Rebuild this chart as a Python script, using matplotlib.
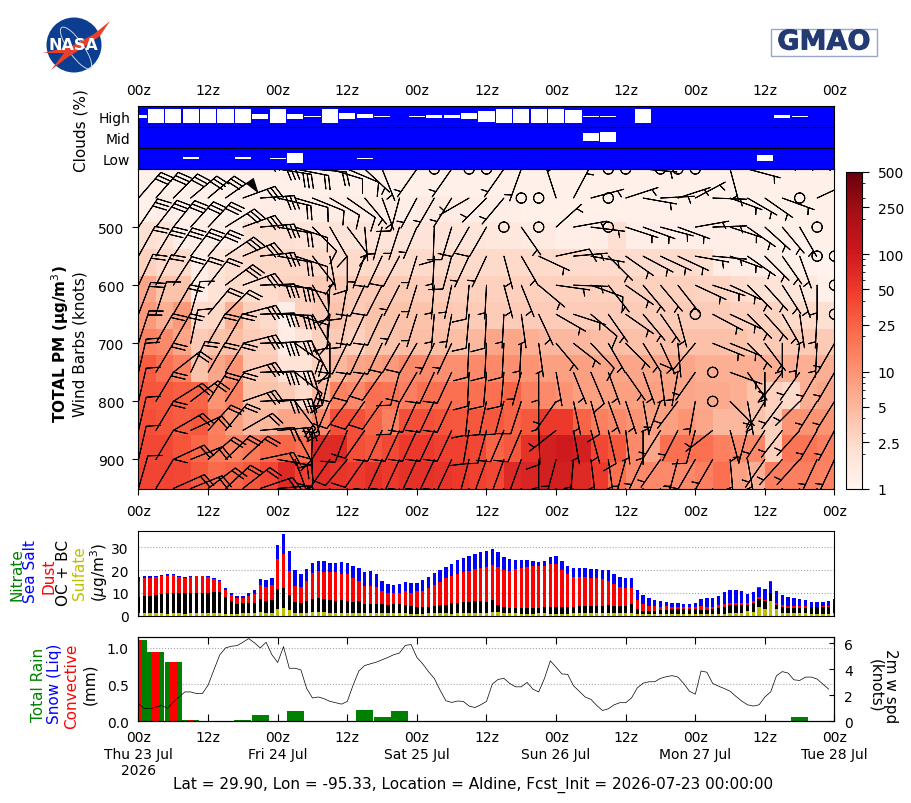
import numpy as np
import matplotlib
matplotlib.use("Agg")
import matplotlib.pyplot as plt
import matplotlib.patheffects as pe
from matplotlib.colors import LogNorm
from matplotlib.patches import Circle, Ellipse, Polygon, Rectangle
from matplotlib.ticker import NullFormatter

# forecast hours, 3-hourly columns and pressure levels
hours = np.arange(121)
steps = np.arange(0, 123, 3)
levels = np.arange(400, 1000, 50)
pm_edges = np.linspace(400, 950, 13)

tick_hours = np.arange(0, 132, 12)
tick_names = ["00z", "12z"] * 5 + ["00z"]
bottom_names = ["00z\nThu 23 Jul\n2026", "12z", "00z\nFri 24 Jul", "12z", "00z\nSat 25 Jul", "12z",
                "00z\nSun 26 Jul", "12z", "00z\nMon 27 Jul", "12z", "00z\nTue 28 Jul"]

# cloud fraction per layer
cloud_high = [.2, 1, 1, 1, 1, 1, 1, .36, 1, .36, .07, 1, .43, .29, .07, 0, .07, .2, .2, .43, .8, 1, 1, 1, 1, .93,
              .07, .07, 0, 1, 0, 0, 0, 0, 0, 0, 0, .2, .07, 0, 0]
cloud_mid = [0] * 26 + [.57, .71] + [0] * 13
cloud_low = [0, 0, 0, .14, 0, 0, .14, 0, .07, .71, 0, 0, 0, .07, 0, 0, 0, 0, 0, 0, 0, 0, 0, 0, 0, 0,
             0, 0, 0, 0, 0, 0, 0, 0, 0, 0, .43, 0, 0, 0, 0]

# total PM by layer, top to bottom (ug/m3)
pm_rows = [
    [1.2, 1.2, 1.2, 1.2, 1.2, 1.2, 1.2, 1.2, 1.2, 1.2, 1.2, 1.2, 1.2, 1.2, 1.2, 1.2, 1.2, 1.2, 1.2, 1.2,
     1.2, 1.2, 1.2, 1.2, 1.2, 1.2, 1.2, 1.2, 1.2, 1.2, 1.2, 1.2, 1.2, 1.2, 1.2, 1.2, 1.2, 1.2, 1.2, 1.2],
    [1.2, 1.4, 1.2, 1.2, 1.1, 1.2, 1.3, 1.4, 1.4, 1.4, 1.3, 1.4, 1.4, 1.4, 1.4, 1.3, 1.5, 1.5, 1.4, 1.3,
     1.3, 1.3, 1.2, 1.2, 1.2, 1.2, 1.2, 1.2, 1.2, 1.2, 1.2, 1.2, 1.2, 1.2, 1.2, 1.2, 1.2, 1.2, 1.2, 1.2],
    [2.2, 2, 1.3, 1.3, 1.3, 1.3, 2.2, 2.2, 2.1, 2, 1.9, 1.9, 1.9, 1.9, 1.9, 1.9, 1.9, 1.9, 1.8, 1.8,
     1.7, 1.7, 1.5, 1.5, 1.3, 1.3, 1.4, 2.2, 1.3, 1.3, 1.3, 1.3, 1.3, 1.3, 1.3, 1.3, 1.2, 1.2, 1.2, 1.2],
    [3, 2.5, 2.5, 1.3, 1.8, 2.3, 2.5, 2.6, 2.6, 2.6, 2.5, 2.5, 2.5, 2.5, 2.5, 2.5, 2.5, 2.5, 2.5, 2.5,
     2.5, 2.5, 2.5, 2.5, 2.4, 2.4, 2.4, 2.4, 2.4, 2.4, 2.4, 2.4, 2.3, 1.4, 1.3, 1.3, 1.3, 1.2, 1.2, 1.1],
    [7, 4, 4, 1.3, 2, 2.5, 2.2, 2.4, 2.8, 3, 3.5, 3.5, 3.5, 3.5, 3.5, 3.5, 3.2, 3.2, 3, 3,
     3, 3, 3, 3, 3, 3, 3, 3, 3, 3, 3, 3, 2.8, 2.8, 2.4, 2.2, 2, 1.8, 1.6, 1.2],
    [9, 6, 9, 2.5, 2.6, 6, 3, 2.5, 1.3, 3, 3.5, 4, 3.5, 4, 4, 4, 4, 3.8, 3.5, 3.3,
     3.3, 3.3, 3.3, 3.3, 3.3, 3.3, 3.3, 3.3, 3.3, 3.3, 3.3, 3.3, 3.3, 3.3, 3, 3, 2.8, 2.5, 2.5, 2.2],
    [14, 12, 7, 3.5, 4, 4.5, 3.3, 3, 1.4, 2, 3, 3.5, 3, 4, 4, 4.5, 4.5, 4.5, 4.5, 5,
     7, 7, 6, 5, 5, 5, 4.5, 4.5, 4.2, 4.2, 4.2, 4.2, 4.2, 4.2, 4, 3.5, 3.5, 3.5, 3.5, 3.5],
    [28, 20, 14, 4, 7, 10, 3.5, 3.5, 2, 2, 3, 5, 7, 8, 9, 12, 12, 11, 11, 12,
     12, 11, 10, 8, 8, 8, 7, 7, 7, 7, 7, 7, 6, 6, 6, 6, 6, 6, 6, 6],
    [32, 30, 27, 25, 10, 14, 4, 4, 3.5, 2.5, 5, 14, 12, 20, 18, 15, 20, 20, 20, 20,
     20, 25, 15, 12, 10, 8, 8, 8, 8, 8, 8, 7, 6.5, 6.5, 6, 4, 3, 2.5, 6, 7],
    [36, 32, 28, 30, 15, 8, 5, 5, 7, 7, 12, 35, 35, 25, 15, 35, 35, 32, 30, 30,
     30, 25, 30, 50, 50, 25, 15, 12, 10, 8, 8, 10, 7, 5, 5, 4, 3, 10, 10, 10],
    [40, 40, 32, 24, 16, 14, 17, 22, 24, 20, 70, 70, 35, 30, 40, 50, 50, 45, 45, 40,
     25, 30, 60, 90, 100, 90, 40, 30, 12, 7, 20, 20, 20, 15, 12, 12, 3, 18, 18, 15],
    [42, 42, 40, 30, 22, 25, 30, 40, 70, 45, 65, 55, 50, 60, 50, 60, 60, 55, 50, 45,
     40, 70, 80, 90, 90, 70, 50, 20, 12, 12, 12, 12, 15, 20, 8, 6, 15, 15, 15, 14],
]
pm_ticks = [1, 2.5, 5, 10, 25, 50, 100, 250, 500]
pm_tick_names = ["1", "2.5", "5", "10", "25", "50", "100", "250", "500"]

# wind: compass direction it comes from, and speed in knots, top to bottom
wind_dir = [
    [40, 40, 45, 50, 50, 55, 70, 85, 99, 101, 95, 107, 113, 133, 158, 30, 215, 0, 215,
     0, 0, 215, 200, 40, 40, 40, 60, 0, 0, 95, 0, 0, 0, 60, 165, 105, 80, 80, 80, 75, 75],
    [41, 41, 45, 50, 50, 55, 70, 86, 103, 106, 112, 120, 125, 140, 160, 195, 208, 210, 212,
     240, 225, 220, 0, 0, 342, 28, 75, 0, 72, 100, 87, 72, 62, 92, 110, 120, 125, 110, 0, 65, 60],
    [34, 38, 39, 42, 43, 58, 70, 85, 100, 108, 135, 150, 143, 175, 195, 198, 203, 182, 197,
     210, 210, 0, 145, 0, 48, 80, 97, 0, 108, 110, 105, 110, 80, 88, 108, 125, 132, 140, 150, 0, 60],
    [29, 31, 34, 37, 40, 56, 67, 84, 100, 108, 142, 170, 180, 200, 205, 208, 197, 183, 195,
     205, 205, 165, 150, 115, 78, 85, 100, 135, 125, 118, 115, 115, 100, 95, 110, 125, 135, 145, 160, 0, 0],
    [25, 27, 33, 35, 38, 53, 70, 88, 95, 105, 150, 183, 190, 205, 207, 207, 197, 185, 192,
     185, 183, 165, 158, 130, 98, 92, 110, 142, 125, 140, 140, 142, 115, 108, 115, 135, 138, 147, 162, 180, 0],
    [21, 18, 30, 16, 40, 45, 75, 88, 92, 108, 150, 185, 192, 205, 205, 205, 197, 185, 190,
     185, 183, 183, 172, 155, 120, 108, 130, 145, 125, 140, 145, 165, 0, 118, 115, 135, 138, 150, 172, 183, 0],
    [18, 30, 30, 12, 30, 30, 76, 88, 86, 125, 152, 180, 206, 205, 205, 210, 210, 205, 205,
     183, 183, 183, 183, 172, 140, 128, 137, 150, 135, 148, 155, 175, 220, 112, 112, 135, 143, 180, 187, 183, 210],
    [13, 31, 52, 25, 30, 32, 73, 88, 88, 128, 163, 193, 210, 212, 215, 195, 210, 205, 205,
     183, 185, 185, 195, 180, 170, 158, 157, 160, 145, 160, 172, 190, 215, 0, 110, 145, 180, 218, 215, 210, 210],
    [13, 31, 58, 53, 33, 33, 71, 87, 86, 143, 168, 203, 217, 215, 215, 195, 205, 205, 205,
     186, 192, 195, 198, 180, 215, 168, 165, 160, 162, 170, 200, 217, 190, 0, 135, 170, 212, 217, 225, 212, 212],
    [13, 31, 60, 65, 42, 39, 60, 85, 85, 152, 182, 212, 201, 215, 205, 205, 205, 205, 205,
     190, 195, 203, 203, 178, 232, 170, 165, 167, 173, 180, 212, 207, 195, 232, 165, 195, 213, 218, 222, 210, 208],
    [13, 31, 65, 68, 49, 46, 47, 78, 100, 160, 180, 215, 220, 215, 205, 205, 205, 205, 205,
     195, 200, 200, 200, 180, 195, 185, 173, 172, 195, 205, 215, 195, 210, 210, 175, 170, 215, 222, 222, 205, 205],
    [16, 31, 66, 68, 53, 47, 52, 71, 85, 170, 180, 200, 205, 205, 205, 205, 205, 205, 205,
     205, 205, 205, 205, 205, 205, 205, 205, 205, 205, 205, 205, 205, 205, 205, 205, 205, 205, 205, 205, 205, 205],
]
wind_spd = [
    [30, 30, 30, 30, 30, 30, 30, 30, 30, 20, 20, 10, 10, 5, 5, 5, 5, 0, 5,
     0, 0, 5, 5, 5, 5, 5, 5, 0, 0, 5, 0, 0, 0, 5, 5, 5, 5, 5, 5, 5, 5],
    [30, 30, 30, 30, 30, 50, 30, 30, 20, 10, 10, 10, 10, 5, 5, 10, 5, 5, 5,
     5, 5, 5, 0, 0, 5, 5, 5, 0, 5, 5, 5, 5, 5, 5, 5, 5, 5, 5, 0, 5, 5],
    [30, 30, 30, 30, 30, 30, 30, 30, 20, 10, 10, 10, 10, 5, 5, 5, 5, 10, 10,
     10, 10, 0, 5, 0, 5, 5, 5, 0, 5, 5, 5, 5, 5, 5, 5, 5, 5, 5, 5, 0, 5],
    [20, 30, 30, 30, 30, 30, 30, 30, 20, 10, 10, 5, 10, 5, 10, 10, 5, 5, 10,
     5, 5, 5, 5, 5, 10, 5, 5, 5, 5, 5, 5, 5, 5, 5, 5, 5, 5, 5, 5, 0, 0],
    [20, 20, 20, 20, 20, 30, 30, 30, 30, 10, 10, 10, 10, 10, 10, 5, 5, 5, 5,
     10, 5, 5, 5, 5, 5, 5, 10, 5, 5, 5, 5, 5, 5, 5, 5, 5, 5, 5, 5, 5, 0],
    [20, 10, 20, 10, 20, 20, 30, 30, 30, 10, 10, 10, 10, 10, 10, 5, 5, 5, 5,
     10, 10, 5, 5, 5, 5, 5, 10, 5, 5, 5, 5, 5, 0, 5, 5, 5, 5, 5, 5, 5, 0],
    [20, 20, 20, 10, 20, 20, 30, 30, 30, 20, 10, 10, 10, 10, 10, 10, 10, 5, 5,
     10, 10, 10, 5, 5, 5, 5, 10, 5, 5, 5, 5, 5, 10, 5, 5, 5, 5, 5, 5, 5, 5],
    [20, 20, 20, 20, 20, 20, 30, 30, 30, 20, 10, 10, 10, 10, 10, 10, 10, 10, 10,
     10, 10, 10, 5, 5, 5, 5, 10, 5, 5, 5, 5, 5, 5, 0, 5, 5, 5, 5, 5, 5, 5],
    [10, 20, 20, 20, 20, 20, 30, 20, 30, 20, 10, 10, 10, 10, 10, 10, 10, 10, 10,
     10, 10, 10, 10, 5, 5, 5, 10, 5, 5, 5, 5, 5, 5, 0, 5, 5, 5, 5, 5, 5, 5],
    [10, 20, 20, 20, 20, 20, 20, 20, 30, 10, 10, 10, 10, 10, 10, 10, 10, 10, 10,
     10, 10, 10, 10, 10, 5, 5, 5, 10, 5, 5, 5, 5, 10, 5, 5, 5, 5, 5, 5, 5, 5],
    [10, 10, 20, 20, 20, 20, 20, 20, 20, 10, 5, 10, 10, 10, 10, 10, 10, 10, 10,
     10, 10, 10, 10, 5, 5, 5, 5, 5, 5, 5, 5, 5, 10, 5, 5, 5, 5, 5, 5, 5, 5],
    [10, 10, 20, 20, 20, 20, 20, 20, 20, 10, 5, 5, 5, 5, 5, 5, 5, 5, 5,
     5, 5, 5, 5, 5, 5, 5, 5, 5, 5, 5, 5, 5, 5, 5, 5, 5, 5, 5, 5, 5, 5],
]

# hourly aerosol stack, each array is the top of its layer
sulfate = [1, 1, 1, 1, 1, .6, 1, 1, .6, 1, 1, 1, 1, 1, 1, .6, .5, .5, 1, 1, 1, 1.4, 1.3, 1.3, 3, 3.2, 2.4, 1.3, 1.3,
           1.3, 1.6, 1.5, 1.5, 1.3, 1, 1, 1, 1, 1, 1, 1, 1, 1, 1, 1, 1, 1, .6, .6, .6, 1, 1, 1, 1, .6,
           1, 1, 1, 1, 1, 1, 1.6, 1.6, 1, 1, 1, .6, .6, .6, 1, 1, .6, .6, .6, .6, 1, 1, 1, 1, 1, 1, 1, 1, 1, 1,
           1, .5, .5, .5, .5, .5, .5, .5, .5, .5, .5, .5, .5, .5, .5, .5, .6, 1, 1, 1, 1.8, 1.7, 3.8, 2.8,
           6.5, 2.8, 1.3, 1, 1, 1, 1, .6, .6, .5, .6, 1]
carbon_top = [8, 8.4, 8.7, 9.1, 9.4, 9.9, 10.1, 10.1, 9.9, 10, 10, 10.1, 10.1, 10.3, 10.3, 8.1, 6.5, 5, 5.6, 5.6,
              5.6, 7.2, 6.5, 6.8, 11.6, 12, 9, 5.9, 5.6, 6.5, 7.2, 7.6, 7.2, 6.8, 6.2, 6.8, 6.5, 5.9, 6.5, 5,
              5, 5, 5, 4.6, 5, 5, 4.6, 4, 3.7, 3.7, 3.7, 4.1, 4.6, 4.6, 5.3, 5.7, 6, 6, 6.5, 6.2, 6, 6.8, 4.6,
              3.8, 3.5, 3.2, 3.2, 3.2, 3.2, 3.4, 3.7, 3.7, 3.7, 3.7, 3.7, 3.7, 4, 4, 4.1, 4.1, 4.1, 4.6, 4, 4,
              4.3, 5, 2.8, 2.2, 2.2, 2.2, 2.4, 2.4, 2.8, 2.8, 2.8, 2.8, 2.8, 2.4, 2.4, 2.8, 3.2, 3.7, 4.6, 4.7,
              4.7, 4.7, 5.7, 7.2, 6.3, 9.9, 4.6, 3.7, 3.4, 3.4, 3.4, 3.4, 3.7, 3.7, 3.7, 3.7, 4.2]
dust_top = [15.3, 16.5, 16.5, 16.8, 17.2, 17.5, 17.8, 16.9, 16.3, 16.9, 17.4, 17.4, 17, 16, 15.1, 11.3, 9, 7.6, 7.6,
            8.5, 9.4, 13.4, 12.6, 13.5, 25, 27, 19.7, 13, 12.6, 15.3, 18.7, 19.7, 19, 19, 19, 18.2, 18.2, 16.5,
            15.3, 13, 12.8, 12.5, 10.7, 9.9, 9.9, 9.9, 10.7, 10, 10.7, 10.9, 12, 13.4, 14.6, 16.3, 17.2, 18.2,
            19.3, 19.7, 20.4, 21, 21.3, 22.2, 21.5, 20.1, 19.7, 20.4, 20.7, 21.2, 21.8, 21.8, 21.8, 22.5, 22.5,
            20, 18.1, 17.1, 17.1, 16.8, 16.5, 16.5, 16, 15.3, 13.7, 12.5, 11.9, 11.9, 6.8, 4.9, 4.1, 4, 3.8, 4,
            3.7, 3.7, 3.7, 3.7, 3.7, 4, 3.8, 3.7, 4.6, 5, 5.7, 5.7, 5.4, 5.4, 6.2, 8.1, 6.8, 10, 5.4, 4.6, 4,
            4, 4, 4, 3.8, 3.7, 4, 4, 4.4]
salt_top = [16.8, 17.2, 17.4, 17.5, 17.8, 18.2, 18.2, 17.2, 16.8, 17.2, 17.6, 17.6, 17.2, 16.3, 15.6, 11.9, 9.9, 8.5,
            8.5, 9.9, 11.2, 16, 15.6, 16.5, 31, 35.9, 28.4, 20, 18.2, 20.4, 23, 24, 24, 23, 23, 23.5, 23, 21.8, 20.9,
            19.1, 19.6, 18.2, 15.1, 13.8, 13.4, 13.8, 14.7, 14.3, 14.3, 15.6, 16.9, 18.7, 20, 21.3, 22.6, 24.4,
            25.3, 26.2, 27.1, 28.1, 28.4, 29.3, 28, 25.7, 24.9, 24.4, 24.4, 24.4, 24, 23.5, 24, 25.7, 26.2, 24,
            21.8, 20.9, 20.9, 20.7, 20.4, 20.4, 20, 20, 18.2, 16.9, 16.5, 16.5, 11.2, 9, 7.6, 6.8, 6.5, 5.9, 5.4,
            5.4, 5, 5, 5.4, 7.2, 7.6, 7.6, 8.5, 10.3, 11.2, 11.2, 10.7, 9.4, 10.3, 12, 11.5, 14.6, 10.7, 9, 8.1,
            7.6, 7.2, 6.8, 6, 5.9, 6, 6.3, 7.2]
nitrate_hours = [29, 77, 107, 109]
nitrate_amount = [.2, .3, .4, .4]

# 3-hourly precipitation (mm)
total_rain = [1.104, .94, .805, .014, 0, 0, .014, .086, 0, .14, 0, 0, 0, .154, .06, .14, 0, 0, 0, 0, 0, 0, 0, 0, 0, 0,
              0, 0, 0, 0, 0, 0, 0, 0, 0, 0, 0, 0, .06, 0, 0]
convective = [1.104, .94, .805, .012, 0, 0, 0, 0, 0, 0, 0, 0, 0, 0, 0, 0, 0, 0, 0, 0, 0, 0, 0, 0, 0, 0,
              0, 0, 0, 0, 0, 0, 0, 0, 0, 0, 0, 0, 0, 0, 0]

# hourly 2 m wind speed (knots)
wind_2m = [1.35, 1, .96, 1.09, 1.22, 1, 1.48, 1.87, 2.26, 2.26, 2.13, 2.13, 2.78, 3.95, 5.1, 5.64, 5.77, 5.82, 6.08,
           6.36, 6.03, 5.64, 6.08, 5.12, 4.52, 5.74, 4.08, 4.08, 3.95, 2.52, 1.79, 1.87, 1.74, 1.53, 1.43, 1.32,
           1.53, 2.78, 3.87, 4.29, 4.42, 4.55, 4.73, 4.91, 5.12, 5.25, 5.84, 5.9, 4.91, 4.42, 3.82, 3.3, 2.39, 1.58,
           1.45, 1.56, 1.53, 1.17, 1.06, 1.27, 1.53, 2.86, 3.22, 3.3, 2.91, 2.65, 2.65, 2.99, 2.47, 2.26, 3.3, 4.65,
           4.16, 3.64, 3.61, 2.73, 2.31, 1.87, 1.69, 1.22, .83, .96, 1.27, 1.43, 1.43, 1.79, 2.57, 2.93, 3.04, 3.04,
           3.3, 3.43, 3.51, 3.4, 2.91, 2.31, 2.08, 3.87, 3.77, 2.91, 2.7, 2.52, 2.31, 1.92, 1.56, 1.27, 1.17, 1.27,
           1.87, 2.26, 3.51, 3.82, 3.71, 3.19, 3.14, 3.4, 3.4, 3.25, 2.86, 2.47]


W, H = 912, 804

def panel(y_top, y_bot):
    return fig.add_axes([138.5 / W, 1 - y_bot / H, 696 / W, (y_bot - y_top) / H])

def px_text(x, y, s, **kw):
    kw.setdefault("ha", "center")
    kw.setdefault("va", "center")
    return fig.text(x / W, 1 - y / H, s, **kw)

fig = plt.figure(figsize=(W / 100, H / 100), dpi=100)

# clouds
ax_c = panel(106.7, 170)
ax_c.set_facecolor("#0000ff")
for row, frac in enumerate([cloud_low, cloud_mid, cloud_high]):
    frac = np.array(frac)
    ax_c.bar(steps, frac * 0.67, width=2.8, bottom=row + 0.5 - frac * 0.335, color="white", linewidth=0)
ax_c.axhline(0.972, color="black", lw=0.8, zorder=5)
ax_c.axhline(2.014, color="black", lw=0.8, zorder=5)
ax_c.set_xlim(0, 120)
ax_c.set_ylim(0, 3)
ax_c.set_yticks([0.5, 1.5, 2.5])
ax_c.set_yticklabels(["Low", "Mid", "High"])
ax_c.set_xticks(tick_hours)
ax_c.set_xticklabels(tick_names)
ax_c.xaxis.tick_top()
ax_c.tick_params(axis="both", length=0)
ax_c.tick_params(axis="x", pad=6.5)
ax_c.tick_params(axis="y", pad=6)

# total PM with wind barbs
ax_m = panel(170, 489.5)
norm = LogNorm(vmin=1, vmax=500)
mesh = ax_m.pcolormesh(steps, pm_edges, np.array(pm_rows), cmap="Reds", norm=norm)
spd = np.array(wind_spd, dtype=float)
rad = np.radians(np.array(wind_dir, dtype=float))
X, Y = np.meshgrid(steps, levels)
ax_m.barbs(X, Y, -spd * np.sin(rad), -spd * np.cos(rad), length=7, linewidth=0.7)
ax_m.set_xlim(0, 120)
ax_m.set_ylim(950, 400)
ax_m.set_yticks([500, 600, 700, 800, 900])
ax_m.set_xticks(tick_hours)
ax_m.set_xticklabels(tick_names)
ax_m.tick_params(axis="y", length=4, pad=6)
ax_m.tick_params(axis="x", length=4, pad=7)

cax = fig.add_axes([846 / W, 1 - 490 / H, 16.5 / W, 317 / H])
cb = fig.colorbar(mesh, cax=cax, ticks=pm_ticks)
cb.ax.set_yticklabels(pm_tick_names)
cb.ax.yaxis.set_minor_formatter(NullFormatter())
cb.ax.tick_params(which="major", length=5, pad=6)

# aerosol stack
ax_a = panel(531.5, 616.5)
ax_a.bar(hours, np.array(sulfate), width=0.6, color="y", linewidth=0)
ax_a.bar(hours, np.array(carbon_top) - np.array(sulfate), bottom=sulfate, width=0.6, color="black", linewidth=0)
ax_a.bar(hours, np.array(dust_top) - np.array(carbon_top), bottom=carbon_top, width=0.6, color="red", linewidth=0)
ax_a.bar(hours, np.array(salt_top) - np.array(dust_top), bottom=dust_top, width=0.6, color="blue", linewidth=0)
ax_a.bar(nitrate_hours, nitrate_amount, bottom=np.array(salt_top)[nitrate_hours], width=0.6, color="green", linewidth=0)
ax_a.set_xlim(0, 120)
ax_a.set_ylim(0, 37.4)
ax_a.set_yticks([0, 10, 20, 30])
ax_a.set_xticks([])
ax_a.tick_params(axis="y", length=0, pad=7)
ax_a.grid(axis="y", linestyle=":", color="gray", linewidth=0.8, alpha=0.7)
ax_a.set_axisbelow(True)

# precipitation and 2 m wind
ax_p = panel(637.5, 722.3)
ax_p.bar(steps, total_rain, width=2.9, color="green", linewidth=0)
ax_p.bar(steps, convective, width=1.2, color="red", linewidth=0)
ax_p.set_xlim(0, 120)
ax_p.set_ylim(0, 1.152)
ax_p.set_yticks([0, 0.5, 1.0])
ax_p.set_xticks(tick_hours)
ax_p.set_xticklabels(bottom_names)
ax_p.tick_params(axis="y", length=0, pad=7)
ax_p.tick_params(axis="x", direction="in", top=True, length=5, pad=6.5)
ax_p.grid(axis="y", linestyle=":", color="gray", linewidth=0.8, alpha=0.7)
ax_p.set_axisbelow(True)

ax_w = ax_p.twinx()
ax_w.plot(hours[:120], wind_2m, color="black", linewidth=0.5)
ax_w.set_xlim(0, 120)
ax_w.set_ylim(0, 6.52)
ax_w.set_yticks([0, 2, 4, 6])
ax_w.tick_params(axis="y", direction="in", length=3.5, pad=7)

# axis captions
px_text(81, 131, "Clouds (%)", rotation=90, fontsize=11)
px_text(60, 344, "TOTAL PM ($\\mathbf{\\mu}$g/m$^3$)", rotation=90, fontsize=11, fontweight="bold")
px_text(80, 344, "Wind Barbs (knots)", rotation=90, fontsize=11)
for x, y, s, c in [(17, 575, "Nitrate", "green"), (31, 572, "Sea Salt", "blue"), (49, 576, "Dust", "red"),
                   (63, 573, "OC + BC", "black"), (80, 573.5, "Sulfate", "y"), (99, 572, "($\\mu$g/m$^3$)", "black")]:
    px_text(x, y, s, rotation=90, fontsize=11, color=c)
for x, y, s, c in [(39, 685, "Total Rain", "green"), (55, 684, "Snow (Liq)", "blue"), (72, 686, "Convective", "red"),
                   (90, 684, "(mm)", "black")]:
    px_text(x, y, s, rotation=90, fontsize=11, color=c)
px_text(883, 686, "2m w spd\n(knots)", rotation=-90, fontsize=11, linespacing=0.95)
px_text(473.5, 784.5, "Lat = 29.90, Lon = -95.33, Location = Aldine, Fcst_Init = 2026-07-23 00:00:00", fontsize=11)

# agency marks in pixel space above the panels
ax_l = fig.add_axes([0, 0, 1, 1], zorder=-1)
ax_l.set_xlim(0, W)
ax_l.set_ylim(H, 0)
ax_l.axis("off")
ax_l.add_patch(Circle((74, 46), 27.5, color="#0b3d91", linewidth=0))
ax_l.add_patch(Ellipse((76, 49), 15, 50, angle=-35, fill=False, edgecolor="#c9d4ea", linewidth=0.7))
ax_l.add_patch(Polygon([(43, 54), (72, 47), (94, 35), (110, 22), (100, 37), (84, 48), (68, 58), (51, 71), (64, 54)],
                       closed=True, color="#e8402a", linewidth=0, zorder=3))
ax_l.text(73.5, 46, "NASA", color="white", fontsize=11.5, fontweight="bold", ha="center", va="center", zorder=4)
ax_l.add_patch(Rectangle((771.5, 30), 105.5, 26.5, fill=False, edgecolor="#9aa5c8", linewidth=1))
ax_l.text(824, 43.5, "GMAO", color="#233a72", fontsize=19.5, fontweight="bold", ha="center", va="center",
          path_effects=[pe.withStroke(linewidth=0.6, foreground="#233a72")])

fig.savefig("out.png", dpi=100)
